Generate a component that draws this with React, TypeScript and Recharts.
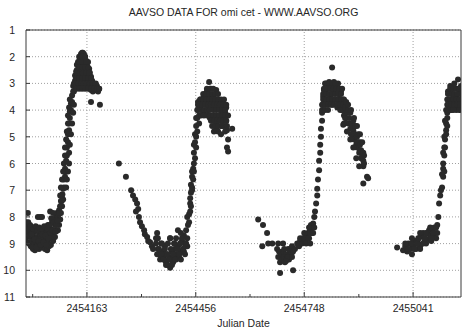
import React from "react";
import {
  ScatterChart,
  Scatter,
  XAxis,
  YAxis,
  CartesianGrid,
  ReferenceLine,
  ReferenceArea,
} from "recharts";

// Julian date / visual magnitude pairs
const cycle1: [number, number][] = [
  [2453999, 8.2], [2453999, 8.5], [2453999, 8.8], [2454002, 8.35], [2454002, 8.95],
  [2454004, 7.85], [2454004, 8.6], [2454007, 8.45], [2454007, 9.0], [2454010, 8.75],
  [2454010, 8.3], [2454012, 9.1], [2454012, 8.6], [2454015, 8.9], [2454015, 8.4],
  [2454018, 9.2], [2454018, 8.7], [2454021, 8.55], [2454021, 9.0], [2454023, 8.8],
  [2454023, 9.25], [2454026, 8.95], [2454026, 8.5], [2454029, 9.1], [2454029, 8.75],
  [2454031, 8.0], [2454031, 8.85], [2454034, 9.2], [2454034, 8.6], [2454037, 8.0],
  [2454037, 8.9], [2454039, 9.05], [2454039, 8.7], [2454042, 8.0], [2454042, 9.15],
  [2454045, 8.8], [2454045, 8.5], [2454047, 9.0], [2454047, 8.65], [2454050, 9.2],
  [2454050, 8.4], [2454053, 8.85], [2454053, 8.55], [2454056, 9.25], [2454056, 8.7],
  [2454058, 8.95], [2454058, 8.3], [2454061, 9.1], [2454061, 8.6], [2454064, 7.8],
  [2454064, 8.8], [2454066, 8.45], [2454066, 9.05], [2454069, 8.2], [2454069, 8.7],
  [2454072, 7.85], [2454072, 8.9], [2454074, 8.5], [2454074, 8.1], [2454077, 8.75],
  [2454077, 8.3], [2454080, 8.0], [2454080, 8.55], [2454082, 8.25], [2454082, 7.85],
  [2454085, 8.5], [2454085, 8.0], [2454088, 7.75], [2454088, 8.3], [2454091, 7.6],
  [2454091, 8.1], [2454093, 7.85], [2454093, 7.4], [2454096, 7.6], [2454096, 7.2],
  [2454099, 7.35], [2454099, 6.95],
  [2454005, 8.2], [2454008, 8.7], [2454011, 8.35], [2454014, 8.65], [2454016, 9.15],
  [2454019, 8.45], [2454022, 8.85], [2454025, 8.35], [2454027, 9.15], [2454030, 8.5],
  [2454033, 8.9], [2454035, 8.4], [2454038, 9.05], [2454040, 8.45], [2454043, 8.65],
  [2454046, 8.95], [2454048, 8.35], [2454051, 8.7], [2454054, 9.05], [2454057, 8.45],
  [2454059, 8.8], [2454062, 8.3], [2454065, 8.6], [2454067, 8.05], [2454070, 8.5],
  [2454073, 8.2], [2454075, 8.75], [2454078, 8.55], [2454081, 8.3], [2454084, 8.15],
  [2454087, 7.9], [2454090, 7.85], [2454092, 7.6], [2454095, 7.4], [2454097, 7.15],
  [2454101, 6.9], [2454101, 6.6], [2454104, 6.5], [2454104, 6.2], [2454107, 6.3],
  [2454107, 5.9], [2454109, 5.7], [2454109, 5.4], [2454112, 5.2], [2454112, 4.9],
  [2454115, 4.75], [2454115, 4.5], [2454117, 4.3], [2454117, 4.05], [2454120, 4.0],
  [2454120, 3.75], [2454123, 3.7], [2454123, 3.45], [2454126, 3.3], [2454126, 3.1],
  [2454128, 3.0], [2454131, 2.9], [2454131, 2.7], [2454134, 2.55], [2454136, 2.5],
  [2454136, 2.3], [2454139, 2.2], [2454142, 2.2], [2454142, 2.0], [2454144, 2.1],
  [2454147, 2.0], [2454147, 1.9], [2454150, 1.85], [2454152, 1.85],
  [2454091, 7.2], [2454093, 6.9], [2454096, 6.6], [2454099, 6.3], [2454101, 6.0],
  [2454104, 5.7], [2454104, 5.4], [2454107, 5.1], [2454109, 4.8], [2454112, 4.5],
  [2454112, 4.2], [2454115, 3.9], [2454117, 3.6],
  [2454107, 6.9], [2454109, 6.6], [2454112, 6.3], [2454115, 6.0], [2454115, 5.6],
  [2454117, 5.3], [2454120, 4.9], [2454123, 4.5], [2454126, 4.1], [2454128, 3.8],
  [2454128, 3.3], [2454131, 3.1], [2454134, 2.9], [2454136, 2.8], [2454139, 2.6],
  [2454139, 3.0], [2454142, 2.5], [2454142, 2.85], [2454144, 2.4], [2454144, 2.75],
  [2454147, 2.3], [2454147, 2.65], [2454150, 2.2], [2454150, 2.95], [2454152, 2.1],
  [2454152, 2.5], [2454155, 1.9], [2454155, 2.35], [2454155, 2.8], [2454158, 2.0],
  [2454158, 2.6], [2454161, 2.15], [2454161, 2.9], [2454163, 2.3], [2454163, 2.65],
  [2454166, 2.2], [2454166, 2.95], [2454169, 2.45], [2454169, 2.8], [2454171, 2.6],
  [2454171, 3.1], [2454174, 2.75], [2454174, 3.25], [2454174, 3.7], [2454177, 2.9],
  [2454177, 3.1], [2454179, 3.0], [2454179, 3.3], [2454182, 3.15], [2454185, 3.05],
  [2454187, 3.25], [2454190, 3.1], [2454193, 3.3], [2454196, 3.2], [2454198, 3.8],
  [2454150, 2.0], [2454158, 2.0], [2454144, 2.2], [2454152, 2.2], [2454161, 2.2],
  [2454142, 2.4], [2454150, 2.4], [2454158, 2.4], [2454166, 2.4], [2454136, 2.6],
  [2454144, 2.6], [2454152, 2.6], [2454161, 2.6], [2454169, 2.6], [2454134, 2.8],
  [2454142, 2.8], [2454150, 2.8], [2454158, 2.8], [2454166, 2.8], [2454174, 2.8],
  [2454131, 3.0], [2454139, 3.0], [2454147, 3.0], [2454155, 3.0], [2454163, 3.0],
  [2454171, 3.0], [2454179, 3.0], [2454187, 3.0], [2454134, 3.2], [2454142, 3.2],
  [2454150, 3.2], [2454158, 3.2], [2454166, 3.2], [2454174, 3.2], [2454182, 3.2],
  [2454190, 3.2], [2454196, 3.2],
];

const cycle2: [number, number][] = [
  [2454249, 6.0], [2454268, 6.5], [2454282, 7.0], [2454287, 7.2], [2454293, 7.35],
  [2454295, 7.8], [2454298, 7.5], [2454301, 7.7], [2454303, 8.0], [2454306, 8.2],
  [2454311, 8.35], [2454317, 8.5], [2454319, 8.65], [2454325, 8.75], [2454328, 8.9],
  [2454333, 8.95], [2454338, 9.1], [2454341, 9.2], [2454349, 8.8],
  [2454352, 8.8], [2454354, 9.2], [2454360, 9.4], [2454363, 9.0], [2454365, 9.5],
  [2454368, 9.3], [2454371, 9.6], [2454373, 9.1], [2454376, 9.7], [2454379, 9.4],
  [2454381, 9.8], [2454384, 9.5], [2454387, 9.9], [2454389, 9.6], [2454392, 9.3],
  [2454395, 9.7], [2454398, 9.5], [2454400, 9.2], [2454403, 9.6], [2454406, 9.4],
  [2454408, 9.1], [2454411, 9.5], [2454414, 9.0], [2454416, 9.3], [2454419, 8.9],
  [2454422, 9.2], [2454424, 8.7], [2454427, 9.0], [2454430, 8.5], [2454433, 8.8],
  [2454352, 8.6], [2454360, 9.6], [2454373, 9.4], [2454387, 8.8], [2454398, 9.0],
  [2454408, 8.5], [2454416, 8.6], [2454424, 9.3], [2454433, 9.1], [2454433, 8.0],
  [2454354, 8.8], [2454387, 8.8], [2454403, 8.8], [2454419, 8.8],
  [2454349, 9.0], [2454365, 9.0], [2454381, 9.0], [2454398, 9.0], [2454414, 9.0], [2454430, 9.0],
  [2454357, 9.2], [2454373, 9.2], [2454389, 9.2], [2454406, 9.2], [2454422, 9.2],
  [2454352, 9.4], [2454363, 9.4], [2454379, 9.4], [2454395, 9.4], [2454411, 9.4], [2454427, 9.4],
  [2454368, 9.6], [2454384, 9.6], [2454400, 9.6], [2454416, 9.6],
  [2454376, 9.8], [2454392, 9.8],
  [2454435, 8.3], [2454438, 7.9], [2454441, 7.5], [2454441, 7.8], [2454443, 7.1],
  [2454443, 6.8], [2454446, 6.5], [2454446, 6.9], [2454449, 6.2], [2454451, 6.0],
  [2454451, 5.6], [2454454, 5.2], [2454454, 4.9], [2454457, 4.6], [2454457, 5.0],
  [2454460, 4.3], [2454460, 4.0], [2454462, 3.8], [2454465, 4.5], [2454468, 3.6],
  [2454438, 8.2], [2454441, 7.3], [2454443, 7.6], [2454446, 6.3], [2454446, 7.0],
  [2454449, 6.6], [2454451, 6.3], [2454451, 5.3], [2454454, 5.8], [2454457, 5.4],
  [2454457, 4.3], [2454460, 4.8],
  [2454462, 3.7], [2454465, 4.2], [2454468, 3.9], [2454470, 4.2],
  [2454473, 3.6], [2454476, 4.1], [2454478, 3.5], [2454484, 3.8],
  [2454486, 3.3], [2454489, 4.0], [2454489, 3.5], [2454492, 2.95],
  [2454494, 3.6], [2454494, 4.3], [2454497, 3.2], [2454500, 3.9], [2454500, 4.6],
  [2454503, 3.5], [2454505, 4.2], [2454508, 3.7], [2454511, 3.25], [2454511, 4.5],
  [2454513, 3.9], [2454516, 3.6], [2454519, 4.3], [2454521, 3.7], [2454524, 4.0],
  [2454524, 4.6], [2454527, 3.75], [2454530, 4.2], [2454532, 3.9], [2454532, 4.6],
  [2454535, 4.1], [2454538, 3.9], [2454538, 4.4], [2454540, 4.75], [2454540, 5.4],
  [2454543, 5.1], [2454543, 5.55], [2454554, 4.7],
  [2454505, 4.8], [2454516, 4.8], [2454524, 4.9], [2454535, 4.8], [2454511, 4.7],
  [2454486, 3.2], [2454494, 3.2], [2454503, 3.2],
  [2454476, 3.4], [2454484, 3.4], [2454492, 3.4], [2454500, 3.4], [2454508, 3.4], [2454516, 3.4],
  [2454468, 3.6], [2454476, 3.6], [2454484, 3.6], [2454492, 3.6], [2454500, 3.6],
  [2454508, 3.6], [2454516, 3.6], [2454524, 3.6], [2454532, 3.6],
  [2454465, 3.8], [2454473, 3.8], [2454481, 3.8], [2454489, 3.8], [2454497, 3.8],
  [2454505, 3.8], [2454513, 3.8], [2454521, 3.8], [2454530, 3.8], [2454538, 3.8],
  [2454462, 4.0], [2454470, 4.0], [2454478, 4.0], [2454486, 4.0], [2454494, 4.0],
  [2454503, 4.0], [2454511, 4.0], [2454519, 4.0], [2454527, 4.0], [2454535, 4.0],
  [2454478, 4.2], [2454486, 4.2], [2454494, 4.2],
  [2454503, 4.2], [2454511, 4.2], [2454519, 4.2], [2454527, 4.2], [2454535, 4.2], [2454543, 4.2],
  [2454497, 4.4], [2454505, 4.4], [2454513, 4.4], [2454521, 4.4], [2454530, 4.4], [2454538, 4.4],
  [2454508, 4.6], [2454516, 4.6], [2454527, 4.6], [2454540, 4.6],
];

const cycle3: [number, number][] = [
  [2454624, 8.1], [2454637, 8.3], [2454648, 8.6], [2454635, 9.1], [2454651, 9.0],
  [2454662, 9.0], [2454678, 9.0], [2454691, 9.0],
  [2454675, 9.2], [2454678, 9.5], [2454680, 9.3], [2454683, 9.7], [2454686, 9.4],
  [2454688, 9.6], [2454691, 9.3], [2454694, 9.5], [2454696, 9.7], [2454699, 9.4],
  [2454702, 9.5], [2454705, 9.2], [2454707, 9.6], [2454710, 9.3], [2454713, 9.4],
  [2454715, 9.1], [2454718, 9.3], [2454683, 10.1], [2454718, 10.0],
  [2454705, 9.5], [2454715, 9.5], [2454699, 9.65], [2454694, 9.2],
  [2454723, 9.2], [2454729, 9.0], [2454734, 9.1], [2454737, 8.9], [2454742, 9.0],
  [2454745, 8.8], [2454750, 8.9], [2454753, 8.7], [2454758, 8.6], [2454761, 8.8],
  [2454764, 8.5], [2454766, 8.3], [2454769, 8.6], [2454772, 8.25], [2454775, 8.0],
  [2454737, 8.8], [2454748, 8.8], [2454758, 8.8], [2454753, 9.0], [2454764, 9.0],
  [2454748, 8.6], [2454764, 8.6], [2454772, 8.6], [2454761, 8.4], [2454775, 8.4],
  [2454777, 7.8], [2454780, 7.5], [2454783, 7.2], [2454783, 6.95], [2454785, 6.6],
  [2454788, 6.25], [2454788, 5.9], [2454791, 5.6], [2454791, 5.3], [2454793, 5.0],
  [2454793, 4.7], [2454796, 4.4], [2454796, 4.1], [2454799, 3.8], [2454799, 3.5],
  [2454801, 3.25], [2454804, 3.0],
  [2454804, 3.3], [2454807, 3.0], [2454810, 3.6], [2454812, 3.2], [2454815, 2.95],
  [2454818, 3.5], [2454820, 3.1], [2454823, 2.4], [2454823, 3.8], [2454826, 3.3],
  [2454828, 2.95], [2454831, 3.6], [2454834, 3.2], [2454837, 3.9], [2454839, 3.0],
  [2454842, 3.4], [2454845, 3.7], [2454847, 3.3], [2454850, 4.0], [2454853, 3.6],
  [2454855, 4.2], [2454853, 4.55],
  [2454815, 3.0], [2454823, 3.0], [2454831, 3.0],
  [2454801, 3.2], [2454810, 3.2], [2454818, 3.2], [2454826, 3.2], [2454834, 3.2], [2454842, 3.2], [2454850, 3.2],
  [2454799, 3.4], [2454807, 3.4], [2454815, 3.4], [2454823, 3.4], [2454831, 3.4], [2454839, 3.4], [2454847, 3.4],
  [2454799, 3.6], [2454807, 3.6], [2454815, 3.6], [2454823, 3.6], [2454831, 3.6],
  [2454839, 3.6], [2454847, 3.6], [2454855, 3.6],
  [2454796, 3.8], [2454804, 3.8], [2454812, 3.8], [2454820, 3.8], [2454828, 3.8],
  [2454837, 3.8], [2454845, 3.8], [2454853, 3.8],
  [2454796, 4.0], [2454804, 4.0], [2454812, 4.0], [2454845, 4.0], [2454853, 4.0], [2454861, 4.0],
  [2454858, 3.9], [2454861, 4.3], [2454863, 4.1], [2454866, 4.5], [2454869, 4.3],
  [2454872, 4.7], [2454874, 4.5], [2454877, 4.9], [2454880, 4.75], [2454882, 5.1],
  [2454885, 4.9], [2454888, 5.3], [2454890, 5.4], [2454893, 5.2], [2454896, 5.6],
  [2454898, 5.5], [2454901, 5.8], [2454904, 5.75], [2454907, 6.1], [2454907, 5.9],
  [2454909, 6.0], [2454917, 6.5], [2454920, 6.55], [2454907, 6.75],
  [2454858, 4.3], [2454866, 4.0], [2454874, 4.9], [2454882, 4.6], [2454890, 5.0],
  [2454898, 5.2], [2454861, 3.7],
  [2454872, 4.1], [2454880, 4.4], [2454877, 4.6], [2454885, 4.6], [2454893, 4.9],
  [2454890, 5.2], [2454898, 5.3], [2454901, 5.5], [2454907, 5.6], [2454909, 5.7],
  [2454855, 4.5], [2454863, 4.8], [2454872, 5.1], [2454880, 5.4], [2454888, 5.8],
  [2454896, 6.1], [2454866, 3.8], [2454874, 4.0], [2454882, 4.3], [2454890, 4.6],
  [2454898, 4.9], [2454904, 5.2],
];

const cycle4: [number, number][] = [
  [2454998, 9.15], [2455014, 9.25], [2455020, 9.1], [2455025, 9.3], [2455028, 9.0],
  [2455033, 9.2], [2455038, 9.4], [2455041, 9.1], [2455047, 8.9], [2455049, 9.2],
  [2455055, 9.0], [2455057, 8.8], [2455060, 9.1], [2455063, 8.7], [2455068, 8.6],
  [2455071, 8.95], [2455073, 8.8], [2455076, 9.0], [2455079, 8.6], [2455082, 8.85],
  [2455084, 8.5], [2455087, 8.7], [2455090, 8.9], [2455092, 8.45], [2455095, 8.7],
  [2455098, 8.4], [2455100, 8.6], [2455103, 8.8], [2455106, 8.3], [2455109, 8.0],
  [2455020, 9.0], [2455036, 9.0], [2455052, 9.0], [2455068, 9.0],
  [2455028, 9.2], [2455044, 9.2], [2455060, 9.2],
  [2455038, 8.8], [2455055, 8.8], [2455073, 8.8], [2455090, 8.8],
  [2455060, 8.6], [2455076, 8.6], [2455095, 8.6], [2455106, 8.6],
  [2455087, 8.4], [2455103, 8.4],
  [2455111, 7.5], [2455114, 7.2], [2455119, 6.9], [2455122, 6.5], [2455122, 6.2],
  [2455122, 6.0], [2455125, 5.7], [2455125, 5.4], [2455127, 5.1], [2455130, 4.75],
  [2455130, 4.5], [2455133, 4.3], [2455133, 4.1],
  [2455116, 7.0], [2455119, 6.4], [2455125, 6.3], [2455122, 5.6], [2455127, 5.4],
  [2455125, 5.0], [2455130, 4.9], [2455127, 4.4], [2455133, 4.6], [2455130, 4.0],
  [2455133, 3.8], [2455135, 3.3], [2455138, 3.6], [2455141, 3.1], [2455144, 4.0],
  [2455146, 3.4], [2455149, 3.7], [2455152, 3.0], [2455154, 3.9], [2455157, 3.5],
  [2455160, 3.2], [2455162, 2.85], [2455165, 3.6], [2455168, 3.3], [2455170, 3.9],
  [2455170, 3.1], [2455135, 4.0], [2455146, 3.9], [2455157, 4.0],
  [2455141, 3.2], [2455149, 3.2], [2455157, 3.2], [2455165, 3.2],
  [2455135, 3.4], [2455144, 3.4], [2455152, 3.4], [2455160, 3.4], [2455168, 3.4],
  [2455133, 3.6], [2455141, 3.6], [2455149, 3.6], [2455157, 3.6], [2455165, 3.6],
  [2455135, 3.8], [2455144, 3.8], [2455152, 3.8], [2455160, 3.8], [2455168, 3.8],
  [2455141, 4.0], [2455149, 4.0], [2455165, 4.0],
];

const jdDomain = [2453999, 2455170];
const majorTicks = [2454163, 2454456, 2454748, 2455041];
const minorTicks = [2454017, 2454310, 2454602, 2454895];
const magTicks = [1, 2, 3, 4, 5, 6, 7, 8, 9, 10, 11];

const data = [...cycle1, ...cycle2, ...cycle3, ...cycle4].map(([jd, mag]) => ({ jd, mag }));

const FONT = "'Liberation Sans', Arial, sans-serif";
const INK = "#262626";
const FRAME = "#3a3a3a";

const BottomTick = (props: any) => {
  const { x, y, payload } = props;
  const major = majorTicks.includes(payload.value);
  return (
    <g>
      <line x1={x} x2={x} y1={y} y2={y - (major ? 5 : 3)} stroke={FRAME} />
      {major && (
        <text x={x} y={y + 15} textAnchor="middle" fontSize={10.5} fontFamily={FONT} fill={INK}>
          {payload.value}
        </text>
      )}
    </g>
  );
};

const TopTick = (props: any) => {
  const { x, y, payload } = props;
  const major = majorTicks.includes(payload.value);
  return <line x1={x} x2={x} y1={y} y2={y + (major ? 5 : 3)} stroke={FRAME} />;
};

const LeftTick = (props: any) => {
  const { x, y, payload } = props;
  return (
    <g>
      <line x1={x} x2={x + 4} y1={y} y2={y} stroke={FRAME} />
      <text x={x - 11} y={y + 4} textAnchor="end" fontSize={10.5} fontFamily={FONT} fill={INK}>
        {payload.value}
      </text>
    </g>
  );
};

const RightTick = (props: any) => {
  const { x, y } = props;
  return <line x1={x} x2={x - 4} y1={y} y2={y} stroke={FRAME} />;
};

const Dot = (props: any) => <circle cx={props.cx} cy={props.cy} r={3} fill="#2a2a2a" />;

export default function App() {
  return (
    <div style={{ position: "absolute", left: 0, top: 0, width: 464, height: 330, background: "#fff" }}>
      <div
        style={{
          position: "absolute",
          top: 6,
          left: 26,
          width: 435,
          textAlign: "center",
          fontFamily: FONT,
          fontSize: 10.5,
          color: INK,
        }}
      >
        AAVSO DATA FOR omi cet - WWW.AAVSO.ORG
      </div>
      <ScatterChart width={464} height={330} margin={{ top: 29, right: 2, bottom: 0, left: 0 }}>
        <CartesianGrid
          xAxisId="x"
          yAxisId="left"
          vertical={false}
          stroke="#a0a0a0"
          strokeDasharray="1 2"
        />
        {majorTicks.map((t) => (
          <ReferenceLine
            key={t}
            x={t}
            xAxisId="x"
            yAxisId="left"
            stroke="#a0a0a0"
            strokeDasharray="1 2"
          />
        ))}
        <XAxis
          xAxisId="x"
          dataKey="jd"
          type="number"
          domain={jdDomain}
          allowDataOverflow
          ticks={[...minorTicks, ...majorTicks]}
          height={33}
          tickLine={false}
          tickSize={0}
          tickMargin={0}
          tick={<BottomTick />}
          axisLine={false}
          interval={0}
          label={{ value: "Julian Date", position: "insideBottom", offset: 3, fontSize: 10.5, fontFamily: FONT, fill: INK }}
        />
        <XAxis
          xAxisId="top"
          orientation="top"
          dataKey="jd"
          type="number"
          domain={jdDomain}
          ticks={[...minorTicks, ...majorTicks]}
          height={1}
          tickLine={false}
          tickSize={0}
          tickMargin={0}
          tick={<TopTick />}
          axisLine={false}
          interval={0}
        />
        <YAxis
          yAxisId="left"
          dataKey="mag"
          type="number"
          domain={[1, 11]}
          reversed
          allowDataOverflow
          ticks={magTicks}
          width={26}
          tickLine={false}
          tickSize={0}
          tickMargin={0}
          tick={<LeftTick />}
          axisLine={false}
          interval={0}
        />
        <YAxis
          yAxisId="right"
          orientation="right"
          dataKey="mag"
          type="number"
          domain={[1, 11]}
          reversed
          ticks={magTicks}
          width={1}
          tickLine={false}
          tickSize={0}
          tickMargin={0}
          tick={<RightTick />}
          axisLine={false}
          interval={0}
        />
        <ReferenceArea
          xAxisId="x"
          yAxisId="left"
          x1={jdDomain[0]}
          x2={jdDomain[1]}
          y1={1}
          y2={11}
          fill="none"
          fillOpacity={0}
          stroke={FRAME}
          strokeWidth={1}
        />
        <Scatter
          data={data}
          xAxisId="x"
          yAxisId="left"
          shape={<Dot />}
          isAnimationActive={false}
        />
      </ScatterChart>
    </div>
  );
}
